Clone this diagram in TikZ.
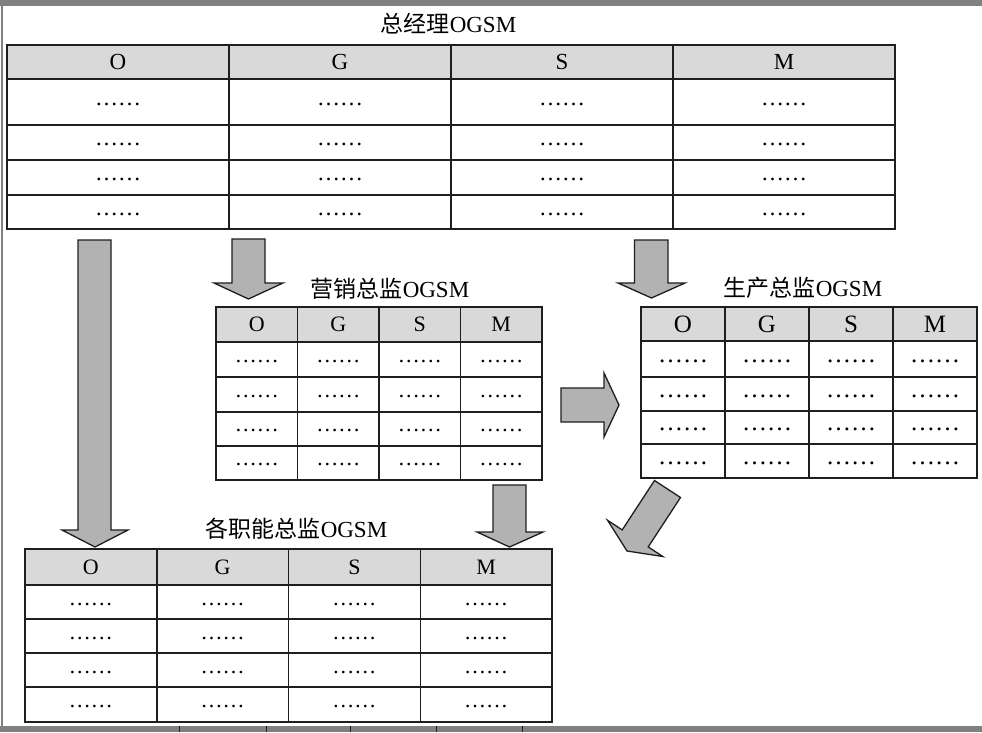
\documentclass[tikz,border=0pt]{standalone}
\usepackage{fontspec}
\setmainfont{Liberation Serif}
\newfontfamily\cjk{Noto Sans CJK SC}
\definecolor{hdrgray}{RGB}{217,217,217}
\definecolor{arrgray}{RGB}{178,178,178}
\definecolor{bandgray}{RGB}{128,128,128}
\definecolor{linec}{RGB}{30,30,30}
\tikzset{
  hdrcell/.style={fill=hdrgray, draw=linec, line width=1.5pt},
  bodycell/.style={draw=linec, line width=1.5pt},
  blockarrow/.style={fill=arrgray, draw=linec, line width=1.3pt, line join=miter},
  ttl/.style={font=\fontsize{23}{23}\selectfont, inner sep=0pt},
}
% #1 name prefix, #2 left x, #3 column width, #4 header top, #5 header bottom,
% #6 body rows as top/bottom pairs, #7 font size
\newcommand\OGSMtable[7]{%
  \foreach \c [count=\i from 0] in {O,G,S,M} {
    \pgfmathsetmacro\xa{#2+\i*#3}
    \pgfmathsetmacro\xb{#2+(\i+1)*#3}
    \path[hdrcell] (\xa,#4) rectangle (\xb,#5);
    \node[font=\fontsize{#7}{#7}\selectfont, inner sep=0pt] (#1-h-\i) at ({(\xa+\xb)/2},{(#4+#5)/2}) {\c};
    \foreach \ya/\yb [count=\r] in {#6} {
      \path[bodycell] (\xa,\ya) rectangle (\xb,\yb);
      \node[font=\fontsize{#7}{#7}\selectfont, inner sep=0pt, yshift=-2pt] (#1-\r-\i) at ({(\xa+\xb)/2},{(\ya+\yb)/2}) {……};
    }
  }
}
\begin{document}
\begin{tikzpicture}[x=1pt,y=-1pt]
\useasboundingbox (0,0) rectangle (982,732);
\fill[white] (0,0) rectangle (982,732);
% screen bands
\fill[bandgray] (0,0) rectangle (982,5.5);
\fill[bandgray] (0,725.5) rectangle (982,732);
\draw[bandgray, line width=1.2pt] (2,5.5) -- (2,725.5);
\foreach \x in {179,266,350,436,522} \draw[linec, line width=1pt] (\x,725.5) -- (\x,732);

% titles
\node[ttl] (t1) at (448.5,24) {{\cjk 总经理}OGSM};
\node[ttl] (t2) at (390,289) {{\cjk 营销总监}OGSM};
\node[ttl] (t3) at (803,288) {{\cjk 生产总监}OGSM};
\node[ttl] (t4) at (296.5,529) {{\cjk 各职能总监}OGSM};

% tables
\OGSMtable{gm}{7}{222}{45}{79}{79/125,125/160,160/195,195/229}{23}
\OGSMtable{mk}{216}{81.5}{307}{342}{342/377,377/412,412/446,446/480}{22}
\OGSMtable{pr}{641}{84}{307}{341}{341/377,377/411,411/444,444/478}{25}
\OGSMtable{fn}{25}{131.75}{549}{585}{585/619,619/653,653/687,687/722}{22}

% block arrows
\draw[blockarrow] (78,240) -- (111,240) -- (111,530) -- (128,530) -- (95,547) -- (62,530) -- (78,530) -- cycle;
\draw[blockarrow] (232,239) -- (265,239) -- (265,283) -- (283,283) -- (248.5,299) -- (214,283) -- (232,283) -- cycle;
\draw[blockarrow] (634.5,240) -- (668,240) -- (668,283) -- (685,283) -- (651.5,298) -- (618,283) -- (634.5,283) -- cycle;
\draw[blockarrow] (561,388) -- (604,388) -- (604,373) -- (619,405) -- (604,437) -- (604,422) -- (561,422) -- cycle;
\draw[blockarrow] (493,485) -- (526,485) -- (526,532) -- (543,532) -- (509.5,547) -- (477,532) -- (493,532) -- cycle;
\draw[blockarrow] (654.5,480.5) -- (680.5,497.5) -- (648.2,546.9) -- (662.8,556.5) -- (627,551) -- (607.6,520.3) -- (622.2,529.9) -- cycle;
\end{tikzpicture}
\end{document}
